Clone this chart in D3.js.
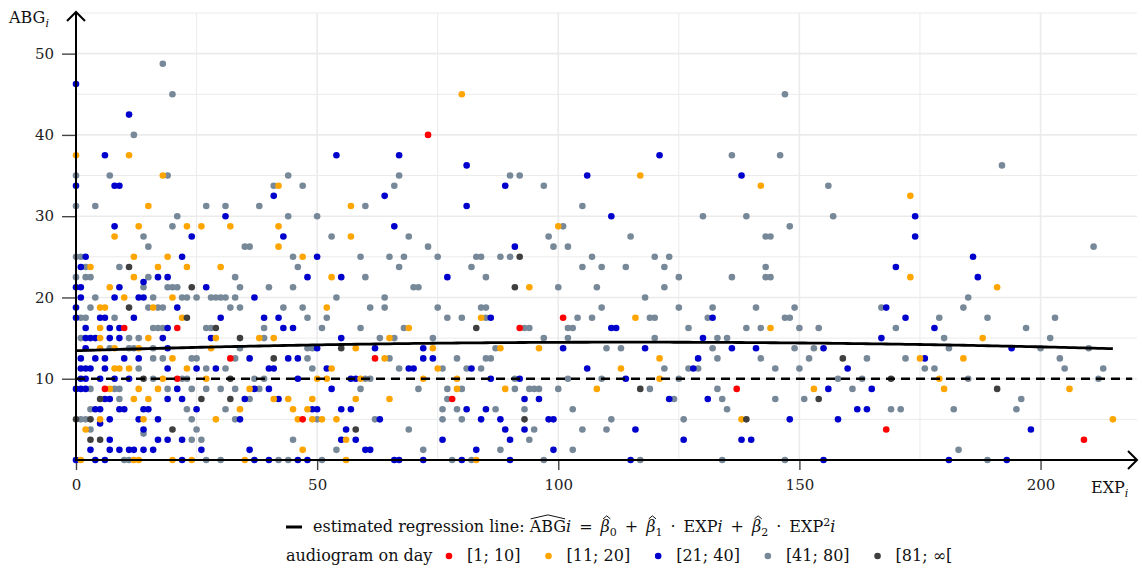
<!DOCTYPE html>
<html>
<head>
<meta charset="utf-8">
<script src="https://cdn.jsdelivr.net/npm/d3@7/dist/d3.min.js"></script>
<style>
  body { margin: 0; background: #fff; }
  svg { display: block; font-family: "DejaVu Serif", serif; }
</style>
</head>
<body>
<svg id="chart" width="1142" height="572"></svg>
<script>
// ---- data ----
var xTicks = [0, 50, 100, 150, 200];
var yTicks = [10, 20, 30, 40, 50];
var groupLabels = ["[1; 10]", "[11; 20]", "[21; 40]", "[41; 80]", "[81; \u221e["];
var beta = [13.45, 0.01825, -0.0000795];   // regression coefficients
var threshold = 10;
var fitEnd = 215;

var day1to10 = [[10,16.25],[21,16.25],[32,12.5],[21,10],[6,8.75],[62,12.5],[47,5],[73,40],[78,7.5],[92,16.25],
  [101,17.5],[137,8.75],[168,3.75],[209,2.5]];

var day11to20 = [[0,37.5],[11,37.5],[18,35],[15,31.25],[13,28.75],[23,28.75],[26,28.75],[32,28.75],[8,27.5],
  [12,25],[19,25],[3,23.75],[17,23.75],[23,23.75],[30,23.75],[12,22.5],[7,21.25],[10,20],[20,20],
  [5,18.75],[6,18.75],[16,18.75],[22,17.5],[5,16.25],[5,15],[15,15],[29,15],[5,13.75],[8,13.75],[13,13.75],[28,13.75],
  [20,12.5],[8,11.25],[9,11.25],[11,11.25],[23,11.25],[18,10],[27,10],[7,8.75],[13,8.75],[17,8.75],
  [12,7.5],[15,7.5],[5,5],[14,5],[29,5],[2,3.75],[1,0],[12,0],[13,0],[20,0],[24,0],
  [42,33.75],[57,31.25],[42,28.75],[57,27.5],[42,26.25],[47,25],[53,22.5],[52,18.75],[69,16.25],
  [38,15],[41,15],[65,15],[58,13.75],[64,12.5],[53,11.25],[50,10],[52,10],[59,10],[36,8.75],
  [41,7.5],[44,7.5],[49,7.5],[58,7.5],[65,7.5],[34,6.25],[45,6.25],[48,6.25],[46,5],[49,5],[51,5],[54,5],
  [56,2.5],[47,1.25],[35,0],[56,0],
  [80,45],[100,28.75],[94,21.25],[84,17.5],[74,13.75],[88,13.75],[96,13.75],[75,11.25],[72,10],[79,10],
  [79,8.75],[89,8.75],[108,8.75],[83,0],
  [117,35],[142,33.75],[116,17.5],[144,16.25],[121,12.5],[113,11.25],[121,10],[138,5],
  [173,32.5],[173,22.5],[175,12.5],[179,10],[153,8.75],[180,8.75],
  [191,21.25],[188,15],[184,12.5],[206,8.75],[215,5]];

var day21to40 = [[0,46.25],[11,42.5],[6,37.5],[0,33.75],[8,33.75],[9,33.75],[31,30],[8,28.75],[24,27.5],
  [2,25],[22,25],[1,23.75],[17,22.5],[19,22.5],[14,21.9],[0,21.25],[1,21.25],[9,21.25],[27,21.25],
  [1,20],[8,20],[13,20],[14,20],[0,18.75],[21,18.75],[0,17.5],[5,17.5],[6,17.5],[12,17.5],[30,17.5],
  [2,16.25],[7,16.25],[9,16.25],[19,16.25],[2,15],[3,15],[4,15],[7,15],[9,15],[18,15],[28,15],
  [2,13.75],[19,13.75],[1,12.5],[4,12.5],[6,12.5],[10,12.5],[13,12.5],
  [1,11.25],[2,11.25],[3,11.25],[6,11.25],[19,11.25],[25,11.25],[29,11.25],[1,10],[2,10],[5,10],[8,10],[11,10],
  [0,8.75],[1,8.75],[2,8.75],[21,8.75],[6,7.5],[7,7.5],[19,7.5],[22,7.5],
  [4,6.25],[5,6.25],[9,6.25],[10,6.25],[14,6.25],[15,6.25],[25,6.25],[7,5],[13,5],[17,5],[5,4.5],[14,3.75],
  [7,2.5],[17,2.5],[19,2.5],[22,2.5],[3,1.25],[7,1.25],[9,1.25],[11,1.25],[12,1.25],[14,1.25],[16,1.25],[26,1.25],
  [0,0],[4,0],[6,0],[22,0],
  [54,37.5],[67,37.5],[41,32.5],[64,32.5],[66,28.75],[43,27.5],[50,25],[48,22.5],[55,22.5],[37,20],
  [39,17.5],[42,17.5],[43,16.25],[45,16.25],[55,15],[50,13.75],[62,13.75],[36,12.5],[44,12.5],[46,12.5],
  [40,11.25],[41,11.25],[52,11.25],[69,11.25],[70,11.25],[46,10],[57,10],[58,10],[37,8.75],[40,8.75],[53,8.75],
  [35,7.5],[42,7.5],[49,6.25],[50,6.25],[55,6.25],[57,6.25],[34,5],[63,5],[56,3.75],[55,2.5],[58,2.5],
  [36,1.25],[60,1.25],[61,1.25],[37,0],[40,0],[46,0],[48,0],[66,0],[67,0],
  [81,36.25],[106,35],[89,33.75],[81,31.25],[91,26.25],[77,22.5],[86,17.5],[72,13.75],[101,13.75],
  [72,12.5],[74,12.5],[82,11.25],[106,11.25],[86,10],[92,10],[93,7.5],[96,7.5],[81,6.25],[85,6.25],
  [84,5],[88,5],[98,5],[99,5],[89,3.75],[93,3.75],[76,2.5],[90,2.5],[83,1.25],[99,1.25],[72,0],[80,0],[90,0],
  [121,37.5],[138,35],[111,30],[132,17.5],[111,16.25],[112,16.25],[130,15],[118,13.75],[136,13.75],[141,13.75],
  [129,12.5],[128,11.25],[114,10],[123,7.5],[131,7.5],[116,3.75],[126,2.5],[138,2.5],[140,2.5],[115,0],
  [174,30],[174,27.5],[170,23.75],[168,18.75],[172,17.5],[178,16.25],[167,15],[155,13.75],[176,12.5],
  [160,11.25],[156,8.75],[165,8.75],[162,6.25],[164,6.25],[148,5],[158,5],[155,0],[181,0],
  [186,25],[187,22.5],[194,13.75],[198,3.75],[193,0]];

var day41to80 = [[18,48.75],[20,45],[12,40],[0,35],[7,35],[19,35],[0,31.25],[4,31.25],[27,31.25],[31,31.25],
  [21,30],[20,28.75],[14,27.5],[15,26.25],[0,25],[1,25],[2,23.75],[9,23.75],
  [0,22.5],[2,22.5],[3,22.5],[15,22.5],[33,22.5],[14,21.25],[19,21.25],[20,21.25],[21,21.25],
  [4,20],[16,20],[22,20],[23,20],[25,20],[28,20],[29,20],[30,20],[31,20],[33,20],
  [3,18.75],[15,18.75],[17,18.75],[18,18.75],[32,18.75],[1,17.5],[2,17.5],[8,17.5],
  [16,16.25],[17,16.25],[18,16.25],[27,16.25],[28,16.25],[1,15],[11,15],[13,15],
  [7,13.75],[11,13.75],[12,13.75],[16,13.75],[34,13.75],[16,12.5],[18,12.5],[24,12.5],[25,12.5],[33,12.5],
  [13,11.25],[27,11.25],[31,11.25],[16,10],[22,10],[23,10],
  [3,8.75],[8,8.75],[9,8.75],[19,8.75],[24,8.75],[27,8.75],[30,8.75],[33,8.75],[9,7.5],
  [3,6.25],[23,6.25],[31,6.25],[1,5],[2,5],[24,5],[33,5],[3,3.75],[25,3.75],[14,3.25],
  [24,2.5],[26,2.5],[10,0],[11,0],[27,0],[30,0],
  [44,35],[67,35],[41,33.75],[47,33.75],[66,33.75],[38,31.25],[60,31.25],
  [44,30],[50,30],[53,27.5],[69,27.5],[35,26.25],[36,26.25],[45,25],[59,25],[65,25],[68,25],
  [46,23.75],[67,23.75],[60,22.5],[34,21.25],[40,21.25],[45,21.25],[70,21.25],[71,21.25],[54,20],[64,20],
  [34,18.75],[43,18.75],[47,18.75],[61,18.75],[64,18.75],[48,17.5],[52,17.5],
  [39,16.25],[51,16.25],[59,16.25],[68,16.25],[39,15],[63,15],[66,15],
  [48,13.75],[49,13.75],[48,12.5],[65,12.5],[49,11.25],[67,11.25],
  [37,10],[39,10],[60,10],[61,10],[38,8.75],[59,8.75],[36,7.5],
  [50,5],[62,5],[69,3.75],[45,2.5],[54,1.25],[42,0],[44,0],[51,0],
  [90,35],[92,35],[97,33.75],[105,31.25],[101,28.75],[98,27.5],[73,26.25],[99,26.25],[102,26.25],
  [75,25],[83,25],[84,25],[88,25],[90,25],[107,25],[82,23.75],[105,23.75],[85,22.5],[100,21.25],[108,21.25],
  [75,18.75],[84,18.75],[85,18.75],[77,17.5],[80,17.5],[85,17.5],[104,17.5],[107,17.5],
  [93,16.25],[94,16.25],[102,16.25],[103,16.25],[74,15],[97,15],[102,15],[87,13.75],
  [79,12.5],[85,12.5],[86,12.5],[76,11.25],[81,11.25],[84,11.25],[91,10],[102,10],
  [71,8.75],[77,8.75],[80,8.75],[91,8.75],[94,8.75],[95,8.75],[96,8.75],[100,8.75],
  [77,7.5],[76,6.25],[79,6.25],[87,6.25],[93,6.25],[103,6.25],[76,5],[80,5],[95,3.75],[105,3.75],
  [94,2.5],[72,1.25],[88,1.25],[103,1.25],[78,0],[82,0],[97,0],
  [136,37.5],[146,37.5],[130,30],[139,30],[115,27.5],[143,27.5],[144,27.5],[120,25],[123,25],
  [109,23.75],[114,23.75],[122,23.75],[143,23.75],[125,22.5],[136,22.5],[143,22.5],[144,22.5],[122,21.25],[118,20],
  [109,18.75],[125,18.75],[132,18.75],[141,18.75],[119,17.5],[120,17.5],[131,17.5],
  [127,16.25],[139,16.25],[142,16.25],[120,15],[133,15],[135,15],[110,13.75],[113,13.75],[132,13.75],
  [133,12.5],[142,12.5],[122,11.25],[127,11.25],[129,11.25],[145,11.25],[109,10],[125,10],[119,8.75],[133,8.75],
  [124,7.5],[134,7.5],[145,7.5],[135,6.25],[111,5],[126,5],[110,3.75],[117,0],[134,0],
  [147,45],[192,36.25],[156,33.75],[157,30],[148,28.75],[149,18.75],[167,18.75],[147,17.5],[148,17.5],[179,17.5],
  [150,16.25],[154,16.25],[170,16.25],[180,15],[149,13.75],[153,13.75],[181,13.75],[152,12.5],[164,12.5],[172,12.5],
  [150,11.25],[176,11.25],[178,11.25],[158,10],[163,10],[161,8.75],[151,7.5],[169,6.25],[171,6.25],[182,6.25],
  [183,1.25],[147,0],
  [211,26.25],[185,20],[184,18.75],[189,17.5],[203,17.5],[197,16.25],[202,15],[200,13.75],[210,13.75],
  [204,12.5],[205,11.25],[213,11.25],[185,10],[212,10],[196,7.5],[195,6.25],[189,0]];

var day81plus = [[11,23.75],[24,21.25],[11,18.75],[23,17.5],[29,16.25],[34,15],[14,10],[32,10],[5,7.5],[26,7.5],
  [32,7.5],[0,5],[3,5],[20,3.75],[3,2.5],[5,2.5],[55,13.75],[41,12.5],[58,3.75],[92,25],[91,21.25],[83,16.25],
  [93,5],[117,8.75],[139,5],[159,12.5],[169,10],[154,7.5],[191,8.75]];

// ---- drawing ----
var colors = ["#ff0000", "#ffa500", "#0000cd", "#778899", "#3f3f3f"];
var groups = [day1to10, day11to20, day21to40, day41to80, day81plus];
var drawOrder = [3, 2, 1, 4, 0];
var R = 3.3;
var FONT = "DejaVu Serif";
var FS = 16;

var svg = d3.select("#chart");
var x = d3.scaleLinear().domain([0, 220]).range([76, 1137]);
var y = d3.scaleLinear().domain([0, 55]).range([460, 13]);

svg.append("rect").attr("width", 1142).attr("height", 572).attr("fill", "#fff");

// grid
var grid = svg.append("g").attr("class", "grid");
grid.selectAll(".gy").data(d3.range(5, 56, 5)).enter().append("line")
	.attr("x1", x(0)).attr("x2", x(220))
	.attr("y1", function(d) { return y(d); }).attr("y2", function(d) { return y(d); })
	.style("stroke", "#ebebeb")
	.style("stroke-width", function(d) { return d % 10 === 0 ? 1.6 : 1; });
grid.selectAll(".gx").data(d3.range(25, 201, 25)).enter().append("line")
	.attr("y1", y(55)).attr("y2", y(0))
	.attr("x1", function(d) { return x(d); }).attr("x2", function(d) { return x(d); })
	.style("stroke", "#ebebeb")
	.style("stroke-width", function(d) { return d % 50 === 0 ? 1.6 : 1; });

// axes ticks + labels
var yAxis = svg.append("g").attr("transform", "translate(" + x(0) + ",0)")
	.call(d3.axisLeft(y).tickValues(yTicks).tickSize(14).tickPadding(8));
var xAxis = svg.append("g").attr("transform", "translate(0," + y(0) + ")")
	.call(d3.axisBottom(x).tickValues(xTicks).tickSize(10).tickPadding(9));
[xAxis, yAxis].forEach(function(a) {
	a.attr("font-family", FONT).attr("font-size", 15);
	a.select(".domain").remove();
	a.selectAll(".tick line").style("stroke", "#444").style("stroke-width", 1.4);
	a.selectAll(".tick text").style("fill", "#222");
});

// points
var pts = svg.append("g");
drawOrder.forEach(function(gi) {
	pts.selectAll(null).data(groups[gi]).enter().append("circle")
		.attr("cx", function(d) { return x(d[0]); })
		.attr("cy", function(d) { return y(d[1]); })
		.attr("r", R)
		.style("fill", colors[gi]);
});

// threshold + regression
svg.append("line")
	.attr("x1", x(0)).attr("x2", x(219))
	.attr("y1", y(threshold)).attr("y2", y(threshold))
	.style("stroke", "#000").style("stroke-width", 2.6).style("stroke-dasharray", "9,6");

var fit = d3.range(0, fitEnd + 0.5, 1).map(function(t) {
	return [t, beta[0] + beta[1] * t + beta[2] * t * t];
});
svg.append("path").datum(fit)
	.attr("d", d3.line().x(function(d) { return x(d[0]); }).y(function(d) { return y(d[1]); }))
	.style("fill", "none").style("stroke", "#000").style("stroke-width", 2.8);

// axis lines with arrows
var axes = svg.append("g").style("stroke", "#000").style("stroke-width", 2).style("fill", "none");
axes.append("line").attr("x1", x(0) - 1).attr("x2", 1137).attr("y1", y(0)).attr("y2", y(0));
axes.append("path").attr("d", "M1128,451L1137,460L1128,469");
axes.append("line").attr("x1", x(0)).attr("x2", x(0)).attr("y1", y(0) + 1).attr("y2", 12);
axes.append("path").attr("d", "M67,21L76,12L85,21");

// axis titles
function subLabel(px, py, main, sub) {
	var t = svg.append("text").attr("x", px).attr("y", py)
		.style("font-family", FONT).style("font-size", FS + "px").style("fill", "#111");
	t.append("tspan").text(main);
	t.append("tspan").attr("dy", 4).style("font-size", "11px").style("font-style", "italic").text(sub);
	return t;
}
subLabel(9, 23, "ABG", "i");
subLabel(1091, 493, "EXP", "i");

// legend line 1: regression formula
var SP = "\u2002";
svg.append("line").attr("x1", 286).attr("x2", 302).attr("y1", 527).attr("y2", 527)
	.style("stroke", "#000").style("stroke-width", 3);
var segs = [
	{t: "estimated regression line: "}, {t: "ABG", hat: "wide"}, {t: "i", it: 1}, {t: SP + "=" + SP},
	{t: "\u03b2", it: 1, hat: "small"}, {t: "0", sub: 1}, {t: SP + "+" + SP},
	{t: "\u03b2", it: 1, hat: "small"}, {t: "1", sub: 1}, {t: SP + "\u00b7" + SP + "EXP"}, {t: "i", it: 1}, {t: SP + "+" + SP},
	{t: "\u03b2", it: 1, hat: "small"}, {t: "2", sub: 1}, {t: SP + "\u00b7" + SP + "EXP"}, {t: "2", sup: 1}, {t: "i", it: 1}
];
var eq = svg.append("text").attr("x", 313).attr("y", 532)
	.style("font-family", FONT).style("font-size", FS + "px").style("fill", "#111");
var shift = 0, idx = 0;
segs.forEach(function(s) {
	var want = s.sub ? 4 : s.sup ? -6 : 0;
	var ts = eq.append("tspan").attr("dy", want - shift).text(s.t);
	if (s.sub || s.sup) ts.style("font-size", "11px");
	if (s.it) ts.style("font-style", "italic");
	shift = want;
	s.idx = idx; idx += s.t.length;
});
var eqNode = eq.node();
segs.forEach(function(s) {
	if (!s.hat) return;
	var x0 = 313 + eqNode.getSubStringLength(0, s.idx);
	var w = eqNode.getSubStringLength(s.idx, s.t.length);
	var top = 532 - FS * 0.82;
	var h = s.hat === "wide" ? 4 : 3;
	var slant = s.hat === "small" ? 1.5 : 0;
	svg.append("path")
		.attr("d", "M" + (x0 + 1 + slant) + "," + top + "L" + (x0 + w / 2 + slant) + "," + (top - h) + "L" + (x0 + w - 1 + slant) + "," + top)
		.style("fill", "none").style("stroke", "#111").style("stroke-width", 1);
});

// legend line 2: groups
var leg = svg.append("g").style("font-family", FONT).style("font-size", FS + "px").style("fill", "#111");
leg.append("text").attr("x", 286).attr("y", 561).text("audiogram on day");
var cx = 449;
groupLabels.forEach(function(lab, i) {
	leg.append("circle").attr("cx", cx).attr("cy", 556).attr("r", R).style("fill", colors[i]);
	var t = leg.append("text").attr("x", cx + 18).attr("y", 561).text(lab);
	cx = cx + 18 + t.node().getComputedTextLength() + 28;
});
</script>
</body>
</html>
